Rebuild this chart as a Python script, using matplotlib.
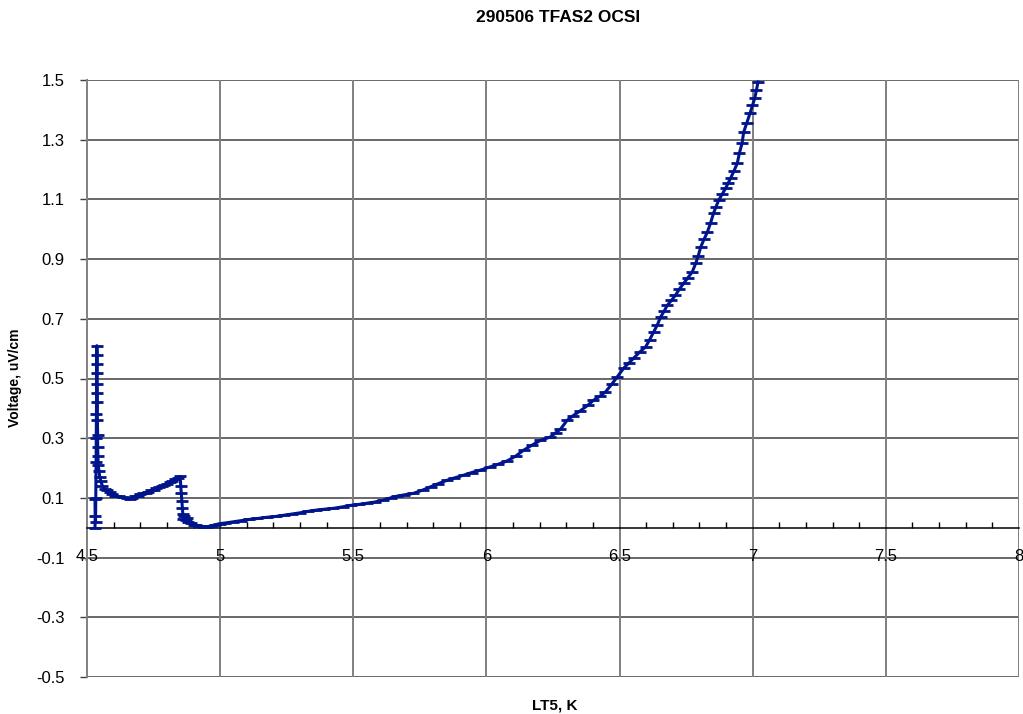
import matplotlib
matplotlib.use("Agg")
import matplotlib.pyplot as plt
from matplotlib.ticker import MultipleLocator, FixedLocator

plt.rcParams['font.family'] = ['Liberation Sans', 'DejaVu Sans']

# LT5 temperature (K) and voltage (uV/cm)
lt5 = [4.530, 4.531, 4.531, 4.532, 4.533, 4.534, 4.535, 4.535, 4.536, 4.536,
       4.537, 4.537, 4.538, 4.538, 4.539, 4.539, 4.540, 4.540, 4.541, 4.542,
       4.545, 4.548, 4.552, 4.558, 4.566, 4.575, 4.585, 4.595, 4.607, 4.620,
       4.635, 4.650, 4.660, 4.670, 4.680, 4.690, 4.700, 4.710, 4.720, 4.730,
       4.740, 4.750, 4.760, 4.770, 4.780, 4.790, 4.800, 4.810, 4.820, 4.830,
       4.840, 4.850, 4.852, 4.854, 4.856, 4.858, 4.860, 4.862, 4.866, 4.870,
       4.875, 4.880, 4.890, 4.900, 4.910, 4.920, 4.935, 4.950, 4.965, 4.980,
       5.000, 5.020, 5.050, 5.080, 5.110, 5.140, 5.175, 5.210, 5.240, 5.270,
       5.300, 5.330, 5.360, 5.390, 5.425, 5.460, 5.490, 5.520, 5.550, 5.580,
       5.610, 5.640, 5.665, 5.690, 5.725, 5.760, 5.790, 5.820, 5.852, 5.880,
       5.914, 5.945, 5.977, 6.015, 6.045, 6.078, 6.110, 6.140, 6.170, 6.203,
       6.240, 6.260, 6.278, 6.303, 6.325, 6.353, 6.380, 6.402, 6.425, 6.447,
       6.470, 6.491, 6.515, 6.535, 6.553, 6.575, 6.598, 6.613, 6.628, 6.642,
       6.654, 6.667, 6.679, 6.695, 6.710, 6.725, 6.741, 6.757, 6.773, 6.786,
       6.795, 6.805, 6.817, 6.830, 6.842, 6.853, 6.862, 6.872, 6.885, 6.898,
       6.908, 6.917, 6.930, 6.942, 6.950, 6.960, 6.966, 6.978, 6.990, 6.999,
       7.008, 7.014, 7.020]
voltage = [0.000, 0.040, 0.095, 0.020, 0.100, 0.220, 0.300, 0.380, 0.450, 0.520,
           0.580, 0.610, 0.550, 0.480, 0.420, 0.360, 0.310, 0.270, 0.240, 0.210,
           0.190, 0.170, 0.155, 0.140, 0.130, 0.125, 0.120, 0.112, 0.108, 0.105,
           0.102, 0.098, 0.095, 0.100, 0.106, 0.108, 0.112, 0.115, 0.118, 0.121,
           0.125, 0.128, 0.132, 0.136, 0.140, 0.144, 0.148, 0.153, 0.158, 0.162,
           0.167, 0.172, 0.140, 0.115, 0.090, 0.065, 0.045, 0.030, 0.040, 0.025,
           0.032, 0.020, 0.015, 0.010, 0.008, 0.005, 0.004, 0.003, 0.006, 0.010,
           0.014, 0.016, 0.020, 0.024, 0.028, 0.031, 0.035, 0.038, 0.042, 0.046,
           0.050, 0.055, 0.059, 0.062, 0.065, 0.070, 0.075, 0.078, 0.082, 0.086,
           0.092, 0.100, 0.106, 0.110, 0.115, 0.126, 0.137, 0.148, 0.159, 0.167,
           0.176, 0.185, 0.193, 0.204, 0.213, 0.224, 0.240, 0.260, 0.276, 0.293,
           0.304, 0.318, 0.330, 0.360, 0.375, 0.392, 0.410, 0.427, 0.440, 0.455,
           0.480, 0.505, 0.534, 0.552, 0.568, 0.588, 0.606, 0.630, 0.656, 0.680,
           0.706, 0.725, 0.745, 0.762, 0.779, 0.800, 0.819, 0.838, 0.857, 0.886,
           0.910, 0.941, 0.966, 0.991, 1.022, 1.054, 1.075, 1.097, 1.117, 1.137,
           1.155, 1.171, 1.196, 1.221, 1.255, 1.288, 1.325, 1.357, 1.389, 1.415,
           1.440, 1.467, 1.493]

yticks = [-0.5, -0.3, -0.1, 0.1, 0.3, 0.5, 0.7, 0.9, 1.1, 1.3, 1.5]
xticks = [4.5, 5, 5.5, 6, 6.5, 7, 7.5, 8]
xlabels = ['4.5', '5', '5.5', '6', '6.5', '7', '7.5', '8']

fig = plt.figure(figsize=(10.23, 7.14), dpi=100)
ax = fig.add_axes([87/1023, 1-677/714, 932/1023, 597/714])

ax.plot(lt5, voltage, color='#00148c', lw=2.2, marker='_', ms=8, mew=2, zorder=3)

ax.set_xlim(4.5, 8)
ax.set_ylim(-0.5, 1.5)

# horizontal gridlines (dark) and vertical gridlines (grey)
for y in yticks:
    ax.axhline(y, color='#404040', lw=1.1, zorder=1)
for x in xticks[1:]:
    ax.axvline(x, color='#808080', lw=1.4, zorder=1)

ax.spines['top'].set_visible(False)
ax.spines['right'].set_visible(False)
ax.spines['left'].set_color('#808080')
ax.spines['left'].set_linewidth(1.4)
ax.spines['bottom'].set_position(('data', 0))
ax.spines['bottom'].set_color('black')
ax.spines['bottom'].set_linewidth(1.1)

ax.yaxis.set_major_locator(FixedLocator(yticks))
ax.set_yticklabels([f'{v:g}' for v in yticks])
ax.tick_params(axis='y', direction='out', length=5, width=1, color='#404040',
               pad=11, labelsize=12)

ax.set_xticks(xticks)
ax.set_xticklabels(xlabels)
ax.xaxis.set_minor_locator(MultipleLocator(0.1))
ax.tick_params(axis='x', which='major', length=0, pad=15, labelsize=12)
ax.tick_params(axis='x', which='minor', direction='in', length=4, width=1, color='black')

fig.text(558/1023, 1-18/714, '290506 TFAS2 OCSI', ha='center', va='center',
         fontsize=12.5, fontweight='bold')
fig.text(555/1023, 1-705/714, 'LT5, K', ha='center', va='center',
         fontsize=11, fontweight='bold')
fig.text(15/1023, 1-378/714, 'Voltage, uV/cm', ha='center', va='center',
         rotation=90, fontsize=10, fontweight='bold')

fig.savefig('out.png', dpi=100)
